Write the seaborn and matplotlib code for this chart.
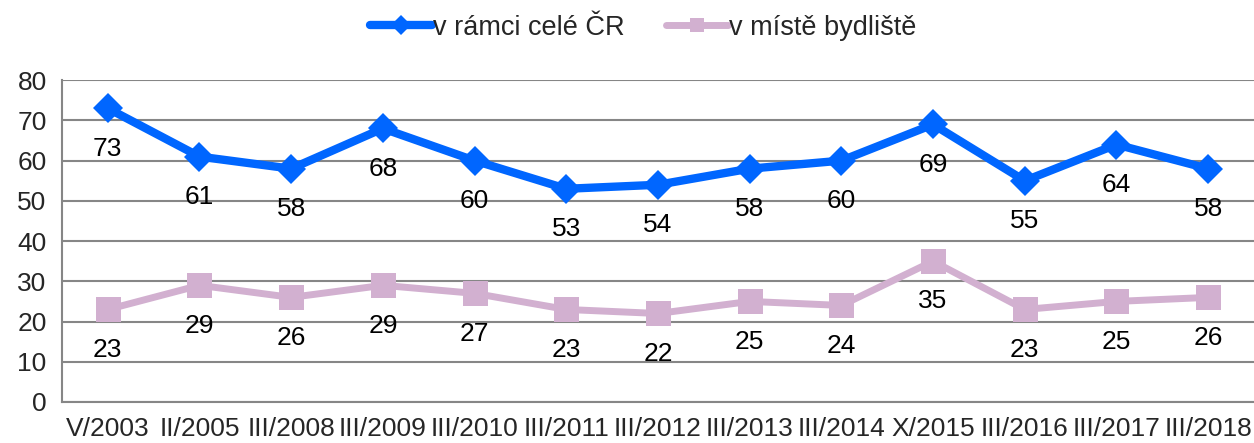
import seaborn as sns
import matplotlib.pyplot as plt
import pandas as pd

# data
periods = ["V/2003", "II/2005", "III/2008", "III/2009", "III/2010", "III/2011", "III/2012",
           "III/2013", "III/2014", "X/2015", "III/2016", "III/2017", "III/2018"]
cela_cr = [73, 61, 58, 68, 60, 53, 54, 58, 60, 69, 55, 64, 58]
bydliste = [23, 29, 26, 29, 27, 23, 22, 25, 24, 35, 23, 25, 26]

blue = "#0066FF"
pink = "#D2B0D0"
grey = "#868686"

sns.set_theme(style="white")
plt.rcParams['font.family'] = ['Liberation Sans', 'DejaVu Sans']

fig = plt.figure(figsize=(12.54, 4.43), dpi=100)
ax = fig.add_axes([0.0494, 0.0926, 0.9506, 0.7264])

df = pd.DataFrame({"period": periods, "v rámci celé ČR": cela_cr, "v místě bydliště": bydliste})
df["pos"] = range(len(periods))

sns.lineplot(data=df, x="pos", y="v rámci celé ČR", ax=ax, color=blue, lw=6,
             marker="D", markersize=15, markeredgewidth=0, label="v rámci celé ČR", zorder=4)
sns.lineplot(data=df, x="pos", y="v místě bydliště", ax=ax, color=pink, lw=5,
             marker="s", markersize=18, markeredgewidth=0, label="v místě bydliště", zorder=3)

# data labels under the points
for i, (a, b) in enumerate(zip(cela_cr, bydliste)):
    ax.annotate(str(a), (i, a), xytext=(0, -29), textcoords="offset points",
                ha="center", va="center", fontsize=19, color="black")
    ax.annotate(str(b), (i, b), xytext=(0, -29), textcoords="offset points",
                ha="center", va="center", fontsize=19, color="black")

ax.set_ylim(0, 80)
ax.set_xlim(-0.5, len(periods) - 0.5)
ax.set_yticks(range(0, 81, 10))
ax.set_xticks(range(len(periods)))
ax.set_xticklabels(periods)
ax.set_xticks([i - 0.5 for i in range(len(periods) + 1)], minor=True)
ax.tick_params(axis="x", which="major", length=0, labelsize=19, pad=11)
ax.tick_params(axis="x", which="minor", length=6, width=1.5, color=grey)
ax.tick_params(axis="y", length=6, width=1.5, color=grey, labelsize=19, pad=5)
ax.yaxis.grid(True, color=grey, lw=1.5)
ax.set_axisbelow(True)
ax.set_xlabel("")
ax.set_ylabel("")
for s in ["top", "right"]:
    ax.spines[s].set_visible(False)
for s in ["left", "bottom"]:
    ax.spines[s].set_color(grey)
    ax.spines[s].set_linewidth(1.5)

ax.get_legend().remove()
handles, labels = ax.get_legend_handles_labels()
leg = fig.legend(handles, labels, loc="center", bbox_to_anchor=(0.513, 0.937), ncol=2,
                 frameon=False, fontsize=19.5, handlelength=2.3, handletextpad=0.05,
                 columnspacing=1.5)
for h in leg.legend_handles:
    h.set_markersize(10)

fig.savefig("out.png", dpi=100)
